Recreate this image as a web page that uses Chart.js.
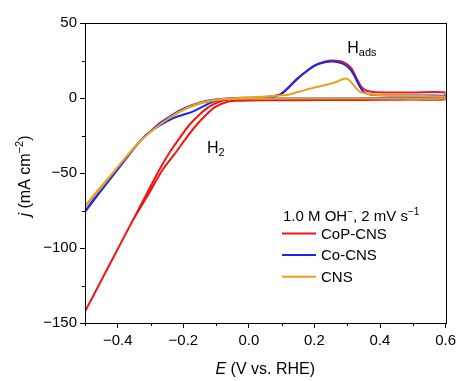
<!DOCTYPE html>
<html>
<head>
<meta charset="utf-8">
<script src="https://cdn.jsdelivr.net/npm/chart.js@4/dist/chart.umd.min.js"></script>
<style>
  html, body { margin: 0; background: #fff; }
</style>
</head>
<body>
<canvas id="cv" width="460" height="381"></canvas>
<script>
// CoP-CNS: anodic sweep then cathodic sweep back
const copE = [-0.5, -0.45, -0.4, -0.348, -0.3, -0.283, -0.262, -0.242, -0.212, -0.182, -0.152, -0.121, -0.091, -0.06, -0.02, 0.02, 0.05, 0.08, 0.1, 0.12, 0.15, 0.18, 0.2, 0.22, 0.25, 0.27, 0.29, 0.31, 0.32, 0.33, 0.34, 0.35, 0.36, 0.38, 0.42, 0.5, 0.6,
  0.6, 0.5, 0.4, 0.3, 0.2, 0.1, 0, -0.04, -0.07, -0.101, -0.131, -0.16, -0.192, -0.222, -0.265, -0.31, -0.35, -0.397, -0.45, -0.5];
const copJ = [-142.4, -121.5, -100.6, -78.9, -59, -51.8, -43.5, -36.3, -26.9, -18, -11.3, -5.8, -2.5, -0.9, -0.4, 0, 0.6, 1.5, 3, 6.5, 13, 18.5, 21.5, 23.5, 25, 24.8, 23.8, 20.5, 17, 12.5, 8.5, 6, 4.8, 4, 3.7, 3.6, 3.6,
  -0.8, -1, -1.2, -1.3, -1.4, -1.5, -1.6, -1.9, -2.8, -5.8, -11.3, -18, -26.9, -36, -48.5, -65.5, -80, -99.4, -121.5, -142.4];

// Co-CNS
const coE = [-0.5, -0.455, -0.394, -0.333, -0.273, -0.242, -0.212, -0.172, -0.131, -0.091, -0.05, 0, 0.05, 0.08, 0.1, 0.12, 0.15, 0.18, 0.2, 0.22, 0.25, 0.27, 0.29, 0.31, 0.32, 0.33, 0.34, 0.35, 0.37, 0.4, 0.5, 0.6,
  0.6, 0.4, 0.2, 0, -0.05, -0.081, -0.111, -0.141, -0.172, -0.202, -0.232, -0.273, -0.313, -0.35, -0.394, -0.455, -0.5];
const coJ = [-75.5, -62, -45.5, -29, -17, -12.5, -8.5, -4.7, -2, -0.6, -0.1, 0.2, 0.6, 1.2, 3, 7, 13.5, 18.5, 21.5, 23.2, 24.3, 24, 22.5, 19, 15.5, 11, 7, 4, 2.4, 1.8, 1.6, 1.5,
  0, -0.2, -0.3, -0.5, -0.7, -1, -2.5, -5.8, -9.1, -11.3, -13.5, -18.5, -24.5, -33.5, -46, -63, -76];

// CNS
const cnsE = [-0.5, -0.455, -0.394, -0.333, -0.273, -0.242, -0.212, -0.182, -0.152, -0.121, -0.091, -0.06, 0, 0.05, 0.1, 0.12, 0.15, 0.18, 0.2, 0.25, 0.27, 0.29, 0.3, 0.31, 0.323, 0.338, 0.364, 0.4, 0.5, 0.6,
  0.6, 0.3, 0, -0.06, -0.1, -0.15, -0.2, -0.25, -0.3, -0.35, -0.4, -0.45, -0.5];
const cnsJ = [-72, -60, -44.5, -29, -18, -13.2, -9.1, -6, -3.5, -1.8, -0.8, -0.3, 0.3, 1, 1.8, 2.2, 4, 5.8, 7, 9.5, 11, 12.8, 12.8, 11, 7.6, 4.2, 2.7, 2, 1.4, 1,
  -0.3, -0.3, -0.5, -0.7, -1.5, -3.8, -8, -14.5, -22.5, -33, -46, -59.5, -72.5];

const xTicks = [-0.4, -0.2, 0, 0.2, 0.4, 0.6];
const xMinor = [-0.5, -0.3, -0.1, 0.1, 0.3, 0.5];
const yTicks = [-150, -100, -50, 0, 50];
const yMinor = [-125, -75, -25, 25];

const names = ['CoP-CNS', 'Co-CNS', 'CNS'];
const colors = ['#f51414', '#1428f0', '#e8a21c'];

const FAM = '"Liberation Sans", Arial, sans-serif';
const minus = v => (v < 0 ? '\u2212' : '') + Math.abs(v);

function pts(es, js) {
  return es.map((e, i) => ({ x: e, y: js[i] }));
}

// draw a run of text pieces with different fonts / offsets
function rich(ctx, parts, x, y, align) {
  let w = 0;
  parts.forEach(p => { ctx.font = p.f; w += ctx.measureText(p.t).width; });
  let cx = align === 'center' ? x - w / 2 : x;
  parts.forEach(p => {
    ctx.font = p.f;
    ctx.fillText(p.t, cx, y + (p.dy || 0));
    cx += ctx.measureText(p.t).width;
  });
}

const decor = {
  id: 'decor',
  afterDraw(chart) {
    const { ctx, chartArea: a, scales: { x, y } } = chart;
    ctx.save();
    ctx.strokeStyle = '#000';
    ctx.lineWidth = 1;
    ctx.strokeRect(Math.round(a.left) + 0.5, Math.round(a.top) + 0.5, Math.round(a.right - a.left), Math.round(a.bottom - a.top));

    ctx.beginPath();
    xMinor.forEach(v => {
      const px = Math.round(x.getPixelForValue(v)) + 0.5;
      ctx.moveTo(px, a.bottom); ctx.lineTo(px, a.bottom + 3);
    });
    yMinor.forEach(v => {
      const py = Math.round(y.getPixelForValue(v)) + 0.5;
      ctx.moveTo(a.left, py); ctx.lineTo(a.left - 3, py);
    });
    ctx.stroke();

    ctx.fillStyle = '#000';
    ctx.textBaseline = 'alphabetic';
    const f16 = '16px ' + FAM, i16 = 'italic 16px ' + FAM, s11 = '11px ' + FAM;
    const f15 = '15px ' + FAM, s10 = '10px ' + FAM;

    // axis titles
    rich(ctx, [{ t: 'E', f: i16 }, { t: ' (V vs. RHE)', f: f16 }], (a.left + a.right) / 2, 374, 'center');
    ctx.save();
    ctx.translate(30, 176);
    ctx.rotate(-Math.PI / 2);
    rich(ctx, [{ t: 'j', f: i16 }, { t: ' (mA cm', f: f16 }, { t: '\u22122', f: s11, dy: -7 }, { t: ')', f: f16 }], 0, 0, 'center');
    ctx.restore();

    // peak labels
    rich(ctx, [{ t: 'H', f: f16 }, { t: 'ads', f: s11, dy: 3 }], x.getPixelForValue(0.3), y.getPixelForValue(30), 'left');
    rich(ctx, [{ t: 'H', f: f16 }, { t: '2', f: s11, dy: 3 }], x.getPixelForValue(-0.128), y.getPixelForValue(-36.5), 'left');

    // legend
    rich(ctx, [{ t: '1.0 M OH', f: f15 }, { t: '\u2212', f: s10, dy: -6 }, { t: ', 2 mV s', f: f15 }, { t: '\u22121', f: s10, dy: -6 }], 283, 221, 'left');
    ctx.textBaseline = 'middle';
    names.forEach((n, i) => {
      const ly = 233.5 + i * 21.6;
      ctx.strokeStyle = colors[i];
      ctx.lineWidth = 2;
      ctx.beginPath(); ctx.moveTo(282, ly); ctx.lineTo(316, ly); ctx.stroke();
      ctx.font = f15;
      ctx.fillText(n, 321, ly + 1);
    });
    ctx.restore();
  }
};

const series = [pts(copE, copJ), pts(coE, coJ), pts(cnsE, cnsJ)];

new Chart(document.getElementById('cv'), {
  type: 'scatter',
  data: {
    datasets: series.map((d, i) => ({
      label: names[i],
      data: d,
      showLine: true,
      borderColor: colors[i],
      borderWidth: 2,
      pointRadius: 0,
      tension: 0.25,
      order: 3 - i
    }))
  },
  options: {
    responsive: false,
    animation: false,
    layout: { padding: { left: 0, top: 23, right: 12, bottom: 0 } },
    plugins: { legend: { display: false }, tooltip: { enabled: false } },
    scales: {
      x: {
        type: 'linear', min: -0.5, max: 0.6,
        afterBuildTicks: s => { s.ticks = xTicks.map(v => ({ value: v })); },
        afterFit: s => { s.height = 58; },
        grid: { drawOnChartArea: false, tickLength: 5, color: '#000' },
        border: { display: true, color: '#000' },
        ticks: {
          color: '#000', padding: 4, maxRotation: 0, autoSkip: false,
          font: { size: 15, family: FAM },
          callback: v => (v < 0 ? '\u2212' : '') + Math.abs(v).toFixed(1)
        }
      },
      y: {
        type: 'linear', min: -150, max: 50,
        afterBuildTicks: s => { s.ticks = yTicks.map(v => ({ value: v })); },
        afterFit: s => { s.width = 85; },
        grid: { drawOnChartArea: false, tickLength: 5, color: '#000' },
        border: { display: true, color: '#000' },
        ticks: {
          color: '#000', padding: 3, autoSkip: false,
          font: { size: 15, family: FAM },
          callback: v => minus(v)
        }
      }
    }
  },
  plugins: [decor]
});
</script>
</body>
</html>
